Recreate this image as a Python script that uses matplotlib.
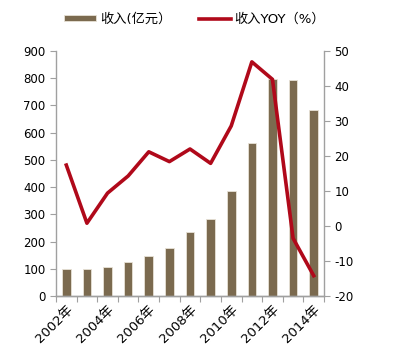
import numpy as np
import matplotlib
matplotlib.use('Agg')
import matplotlib.pyplot as plt

plt.rcParams['font.family'] = ['DejaVu Sans', 'Noto Sans CJK SC']
plt.rcParams['axes.unicode_minus'] = False

years = [str(y) + '年' for y in range(2002, 2015)]
revenue = [98, 98, 106, 124, 148, 175, 236, 283, 385, 563, 798, 793, 683]
yoy = [17.4, 0.8, 9.4, 14.3, 21.2, 18.4, 22.0, 17.9, 28.6, 46.9, 41.9, -3.5, -14.2]

bar_color = '#7b6a4f'
line_color = '#b0091a'
grey = '#a0a0a0'

fig = plt.figure(figsize=(3.96, 3.47), dpi=100)
ax = fig.add_axes([0.1414, 0.147, 0.6768, 0.706])
x = np.arange(len(years))
b = ax.bar(x, revenue, width=0.42, color=bar_color, edgecolor='#e8e2d6', linewidth=0.6,
           label='收入(亿元）', zorder=2)
ax.set_xlim(-0.5, len(years) - 0.5)
ax.set_ylim(0, 900)
ax.set_yticks(range(0, 901, 100))

ax2 = ax.twinx()
ln, = ax2.plot(x, yoy, color=line_color, linewidth=2.6, label='收入YOY（%）', zorder=3)
ax2.set_ylim(-20, 50)
ax2.set_yticks(range(-20, 51, 10))

for a in (ax, ax2):
    a.spines['top'].set_visible(False)
    for s in ('left', 'right', 'bottom'):
        a.spines[s].set_color(grey)
        a.spines[s].set_linewidth(1.0)
    a.tick_params(axis='y', colors=grey, labelcolor='black', labelsize=8.5, length=4, direction='out')

ax.spines['right'].set_visible(False)
ax2.spines['left'].set_visible(False)

ax.set_xticks(np.arange(-0.5, len(years), 1.0))
ax.set_xticklabels([])
ax.tick_params(axis='x', colors=grey, length=4, direction='out')
ax.set_xticks(x[::2], minor=True)
ax.set_xticklabels(years[::2], minor=True, rotation=45, ha='right', va='top',
                   rotation_mode='anchor', fontsize=9.5)
ax.tick_params(axis='x', which='minor', length=0, pad=5, labelcolor='black')

fig.legend([b, ln], ['收入(亿元）', '收入YOY（%）'], loc='center',
           bbox_to_anchor=(0.492, 0.945), ncol=2, frameon=False,
           handlelength=2.4, handleheight=0.4, columnspacing=2.1, handletextpad=0.3,
           prop={'family': ['DejaVu Sans', 'Noto Sans CJK SC'], 'size': 9.5})

fig.savefig('out.png', dpi=100)
